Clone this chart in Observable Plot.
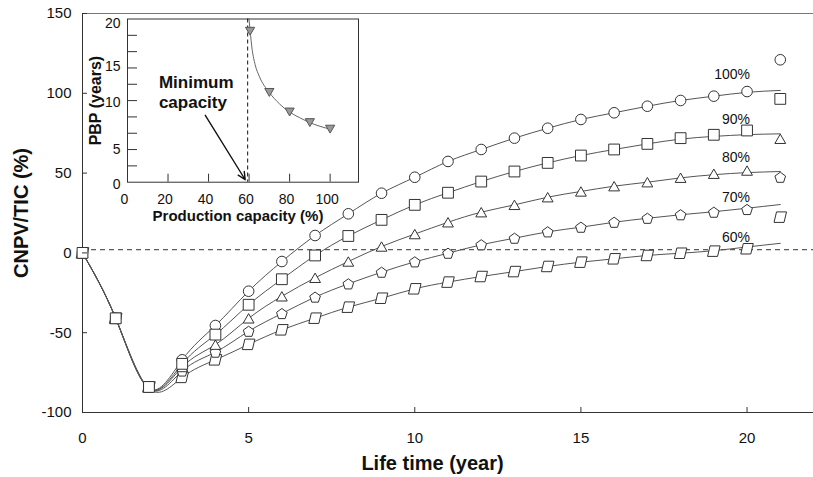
<!DOCTYPE html>
<html><head><meta charset="utf-8">
<script src="https://cdn.jsdelivr.net/npm/d3@7"></script>
<script src="https://cdn.jsdelivr.net/npm/@observablehq/plot@0.6"></script>
<style>
html,body{margin:0;padding:0;background:#fff;}
#wrap{position:relative;width:813px;height:477px;overflow:hidden;}
#wrap svg{position:absolute;left:0;top:0;}
</style></head><body><div id="wrap"></div>
<script>
// ---------- main chart data ----------
const years = [0,1,2,3,4,5,6,7,8,9,10,11,12,13,14,15,16,17,18,19,20,21];
const seriesNames = ["100%","90%","80%","70%","60%"];
// marker values (CNPV/TIC, %)
const m100 = [0,-41,-84,-67,-45.5,-24,-5.4,10.9,24.5,37.4,47.4,57.3,64.8,71.9,78.1,83.6,87.8,91.9,95.5,98.2,101.1,121];
const m90  = [0,-41,-84,-69.5,-51.2,-32.5,-16.5,-1.6,10.6,20.7,30.1,37.7,44.7,51,56.4,61,64.8,68.3,71.9,74,76.7,96.5];
const m80  = [0,-41,-84,-71.5,-57.5,-41,-27.2,-15.6,-5.4,4.0,11.8,19.2,25.5,30.1,34.9,38.5,41.8,44.3,47.1,49.6,51.6,71.5];
const m70  = [0,-41,-84,-74,-62.2,-49.1,-38,-27.7,-19.4,-12.1,-5.6,-0.2,5.1,9.2,13.2,16.1,19.2,21.7,23.9,25.5,27.2,47.4];
const m60  = [0,-41,-84,-78,-67,-57.3,-48.2,-40.9,-34,-28.4,-22.5,-18.3,-14.8,-11.7,-8.5,-5.8,-3.7,-1.6,-0.2,1.1,2.6,22.4];
// fitted curve values
const f100 = [0,-41,-85,-67,-45.5,-24,-5.4,10.9,24.5,37.4,47.4,57.3,64.8,71.9,78.1,83.6,87.8,91.9,95.5,98.2,100.6,101.8];
const f90  = [0,-41,-85,-69.5,-51.2,-32.5,-16.5,-1.6,10.6,20.7,30.1,37.7,44.7,51,56.4,61,64.8,68.3,71.3,73,74.1,74.6];
const f80  = [0,-41,-85,-71.5,-57.5,-41,-27.2,-15.6,-5.4,4.0,11.8,19.2,25.5,30.1,34.9,38.5,41.8,44.3,47,49,50.3,51];
const f70  = [0,-41,-85,-74,-62.2,-49.1,-38,-27.7,-19.4,-12.1,-5.6,-0.2,5.1,9.2,13.2,16.1,19.2,21.7,23.9,25.8,28,30.3];
const f60  = [0,-41,-85,-78,-67,-57.3,-48.2,-40.9,-34,-28.4,-22.5,-18.3,-14.8,-11.7,-8.5,-5.8,-3.7,-1.6,-0.2,1.4,3.7,6];
const labelX = 20.09;
const labelY = [112.0, 83.8, 59.6, 34.5, 9.8];
const xTicks = [0,5,10,15,20];
const yTicks = [-100,-50,0,50,100,150];
const zeroLineY = 2;

// ---------- inset data ----------
const capX = [60.5,70,80,90,100];
const pbpY = [18.5,11.0,8.6,7.3,6.5];
const capFitX = [59.7,60.5,61.5,63,65,70,75,80,85,90,95,100];
const pbpFitY = [20.8,18.6,16.3,14.4,13,11,9.6,8.6,7.9,7.3,6.85,6.5];
const minCapacity = 59.3;
const insetXTicks = [0,20,40,60,80,100];
const insetYTicks = [2,4,6,8,10,12,14,16,18];
const insetYLabels = ["0","5","10","15","20"];
const insetYLabelAt = [-0.3,4,9.8,14.2,19.4];
const annotLines = ["Minimum","capacity"];
const annotX = 15.5;
const annotY = [12.2, 9.75];
const arrowFrom = [38.4, 8.2];
const arrowTo = [58.1, 0.3];

// ---------- symbols ----------
const sym = f => ({draw(ctx, size){ const r = Math.sqrt(size/Math.PI); f(ctx, r); }});
const poly = (ctx, pts) => { ctx.moveTo(pts[0][0], pts[0][1]); for (let i=1;i<pts.length;i++) ctx.lineTo(pts[i][0], pts[i][1]); ctx.closePath(); };
const symSquare = sym((c,r)=>poly(c,[[-r,-r],[r,-r],[r,r],[-r,r]]));
const symTriUp = sym((c,r)=>poly(c,[[0,-0.87*r],[r,0.87*r],[-r,0.87*r]]));
const symTriDown = sym((c,r)=>poly(c,[[-r,-0.86*r],[r,-0.86*r],[0,0.86*r]]));
const symPent = sym((c,r)=>{ const pts=[]; const off = r*0.095; for(let i=0;i<5;i++){ const a=-Math.PI/2+i*2*Math.PI/5; pts.push([r*Math.cos(a), r*Math.sin(a)+off]); } poly(c,pts); });
const symPara = sym((c,r)=>{ const s=r*0.25; poly(c,[[-r+s,-r*1.05],[r+s,-r*1.05],[r-s,r*1.05],[-r-s,r*1.05]]); });

const markers = [m100,m90,m80,m70,m60];
const fits = [f100,f90,f80,f70,f60];
const markerData = seriesNames.map((s,i)=>years.map((x,j)=>({s, x, y: markers[i][j]})));
const fitData = seriesNames.flatMap((s,i)=>years.map((x,j)=>({s, x, y: fits[i][j]})));
const labelData = seriesNames.map((s,i)=>({s, x: labelX, y: labelY[i]}));
const symbols = [{symbol:"circle", r:5.3},{symbol:symSquare, r:5.4},{symbol:symTriUp, r:5.4},{symbol:symPent, r:5.6},{symbol:symPara, r:5}];
const drawOrder = [4,3,2,0,1];

const font = "'Liberation Sans', Arial, sans-serif";
const ink = "#111";

const main = Plot.plot({
  width: 813, height: 477,
  marginLeft: 82, marginRight: 0, marginTop: 13, marginBottom: 65,
  x: {domain: [0, 22]},
  y: {domain: [-100, 150]},
  style: {fontFamily: font, background: "white", color: ink, overflow: "visible"},
  marks: [
    Plot.ruleY([150], {stroke: "#777", strokeWidth: 1}),
    Plot.ruleY([-100], {stroke: "#333", strokeWidth: 1}),
    Plot.ruleX([0], {stroke: "#333", strokeWidth: 1}),
    Plot.ruleY([zeroLineY], {x1: 0, x2: 22, stroke: "#333", strokeDasharray: "5,4"}),
    Plot.line(fitData, {x: "x", y: "y", z: "s", curve: "natural", stroke: "#555", strokeWidth: 1}),
    ...drawOrder.map(i => Plot.dot(markerData[i], {x: "x", y: "y", symbol: symbols[i].symbol, r: symbols[i].r, fill: "white", stroke: "#333", strokeWidth: 1})),
    Plot.text(labelData, {x: "x", y: "y", text: "s", textAnchor: "end", fontSize: 14, fill: ink}),
    Plot.axisX({ticks: xTicks, tickSize: 5, dy: -5, tickPadding: 19.5, fontSize: 15, label: null, stroke: "#333", fill: ink}),
    Plot.axisY({ticks: yTicks, tickSize: 5, dx: 5, tickPadding: 11, fontSize: 15, label: null, tickFormat: d => String(d), stroke: "#333", fill: ink}),
    Plot.text(["Life time (year)"], {frameAnchor: "bottom", dy: 51, dx: -15.5, textAnchor: "middle", lineAnchor: "middle", fontSize: 20, fontWeight: "bold", fill: ink}),
    Plot.text(["CNPV/TIC (%)"], {frameAnchor: "left", dx: -61, textAnchor: "middle", rotate: -90, lineAnchor: "middle", fontSize: 20, fontWeight: "bold", fill: ink})
  ]
});

const pbpData = capX.map((x,i)=>({x, y: pbpY[i]}));
const pbpFit = capFitX.map((x,i)=>({x, y: pbpFitY[i]}));
const insetLabelData = insetYLabels.map((t,i)=>({t, y: insetYLabelAt[i]}));
const annotData = annotLines.map((t,i)=>({t, x: annotX, y: annotY[i]}));

const inset = Plot.plot({
  width: 380, height: 230,
  marginLeft: 127, marginRight: 22, marginTop: 18.5, marginBottom: 48.3,
  x: {domain: [0, 114]},
  y: {domain: [0, 20]},
  style: {fontFamily: font, background: "transparent", color: ink, overflow: "visible"},
  marks: [
    Plot.frame({stroke: "#333"}),
    Plot.axisX({ticks: insetXTicks, tickSize: 8, dy: -8, fill: "none", label: null, stroke: "#333"}),
    Plot.axisX({ticks: insetXTicks, tickSize: 0, tickPadding: 11.5, dx: -3, fontSize: 14, label: null, fill: ink}),
    Plot.axisY({ticks: insetYTicks, tickSize: 10, dx: 10, fill: "none", label: null, stroke: "#333"}),
    Plot.text(insetLabelData, {y: "y", text: "t", frameAnchor: "left", dx: -7, textAnchor: "end", fontSize: 14, fill: ink}),
    Plot.ruleX([minCapacity], {stroke: "#111", strokeDasharray: "4,3"}),
    Plot.line(pbpFit, {x: "x", y: "y", curve: "monotone-x", stroke: "#666", strokeWidth: 1, clip: true}),
    Plot.dot(pbpData, {x: "x", y: "y", symbol: symTriDown, r: 4.6, fill: "#999", stroke: "#555", strokeWidth: 1}),
    Plot.text(annotData, {x: "x", y: "y", text: "t", textAnchor: "start", lineAnchor: "middle", fontSize: 17, fontWeight: "bold", fill: ink}),
    Plot.arrow([{x1: arrowFrom[0], y1: arrowFrom[1], x2: arrowTo[0], y2: arrowTo[1]}], {x1: "x1", y1: "y1", x2: "x2", y2: "y2", stroke: "#111", strokeWidth: 1.4, headLength: 9, headAngle: 50}),
    Plot.text(["Production capacity (%)"], {frameAnchor: "bottom", dy: 34.3, dx: -5, textAnchor: "middle", lineAnchor: "middle", fontSize: 15, fontWeight: "bold", fill: ink}),
    Plot.text(["PBP (years)"], {frameAnchor: "left", dx: -32, textAnchor: "middle", rotate: -90, lineAnchor: "middle", fontSize: 16, fontWeight: "bold", fill: ink})
  ]
});

const wrap = document.getElementById("wrap");
wrap.appendChild(main);
wrap.appendChild(inset);
</script>
</body></html>
